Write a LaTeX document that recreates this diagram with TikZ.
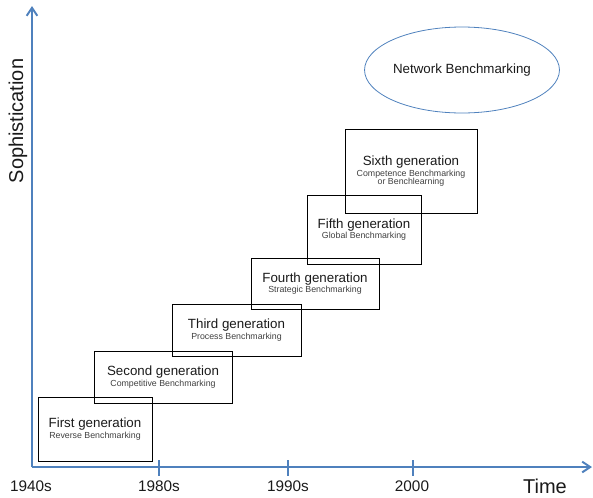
\documentclass[tikz,border=0pt]{standalone}
\usepackage{fontspec}
\setmainfont{Liberation Sans}
\usetikzlibrary{arrows.meta,shapes.geometric}
\definecolor{axisblue}{HTML}{4F81BD}
\definecolor{subgray}{HTML}{404040}
\definecolor{titlegray}{HTML}{1A1A1A}
\begin{document}
\begin{tikzpicture}[x=0.75pt,y=-0.75pt,
  axisline/.style={draw=axisblue,line width=1.5pt},
  tickline/.style={draw=axisblue,line width=1.5pt},
  genbox/.style={draw=black,line width=0.75pt,inner sep=0pt,align=center,
    font=\fontsize{6.6}{8.1}\selectfont,text=subgray},
  ticklabel/.style={font=\fontsize{11.5}{13}\selectfont,text=titlegray,inner sep=0pt},
  axislabel/.style={font=\fontsize{15}{17}\selectfont,text=titlegray,inner sep=0pt}
]
\useasboundingbox (0,0) rectangle (593,497);

% axes
\coordinate (O) at (32,467);
\coordinate (Ytop) at (32,6);
\coordinate (Xend) at (592,467);
\draw[axisline,-{Straight Barb[length=6pt,width=8pt]}] (O) -- (Ytop);
\draw[axisline,-{Straight Barb[length=6pt,width=8pt]}] (O) -- (Xend);

% ticks
\coordinate (t1a) at (159,460); \coordinate (t1b) at (159,476);
\coordinate (t2a) at (288,460); \coordinate (t2b) at (288,476);
\coordinate (t3a) at (413,460); \coordinate (t3b) at (413,476);
\draw[tickline] (t1a) -- (t1b);
\draw[tickline] (t2a) -- (t2b);
\draw[tickline] (t3a) -- (t3b);

% tick labels
\node[ticklabel] (l1940) at (31,486) {1940s};
\node[ticklabel] (l1980) at (159,486) {1980s};
\node[ticklabel] (l1990) at (288,486) {1990s};
\node[ticklabel] (l2000) at (412,486) {2000};
\node[axislabel] (time) at (545,486.5) {Time};
\node[axislabel,rotate=90] (soph) at (18,121) {Sophistication};

% generation boxes
\node[genbox,minimum width=85.5pt,minimum height=48pt] (g1) at (95,429)
  {{\fontsize{10}{12}\selectfont\color{titlegray}First generation}\\Reverse Benchmarking};
\node[genbox,minimum width=103.5pt,minimum height=39pt] (g2) at (163,377)
  {{\fontsize{10}{12}\selectfont\color{titlegray}Second generation}\\Competitive Benchmarking};
\node[genbox,minimum width=96.75pt,minimum height=39pt] (g3) at (236.5,330)
  {{\fontsize{10}{12}\selectfont\color{titlegray}Third generation}\\Process Benchmarking};
\node[genbox,minimum width=96pt,minimum height=38.25pt] (g4) at (315,283.5)
  {{\fontsize{10}{12}\selectfont\color{titlegray}Fourth generation}\\Strategic Benchmarking};
\node[genbox,minimum width=85.5pt,minimum height=51.75pt] (g5) at (364,229.5)
  {{\fontsize{10}{12}\selectfont\color{titlegray}Fifth generation}\\Global Benchmarking};
\node[genbox,minimum width=99pt,minimum height=63pt] (g6) at (411,171)
  {{\fontsize{10}{12}\selectfont\color{titlegray}Sixth generation}\\Competence Benchmarking\\[-2pt]or Benchlearning};

% network ellipse
\node[ellipse,draw=axisblue,line width=0.6pt,minimum width=142.5pt,minimum height=64.5pt,
  inner sep=0pt,font=\fontsize{10}{12}\selectfont,text=titlegray] (net) at (462,70)
  {Network Benchmarking};
\end{tikzpicture}
\end{document}
